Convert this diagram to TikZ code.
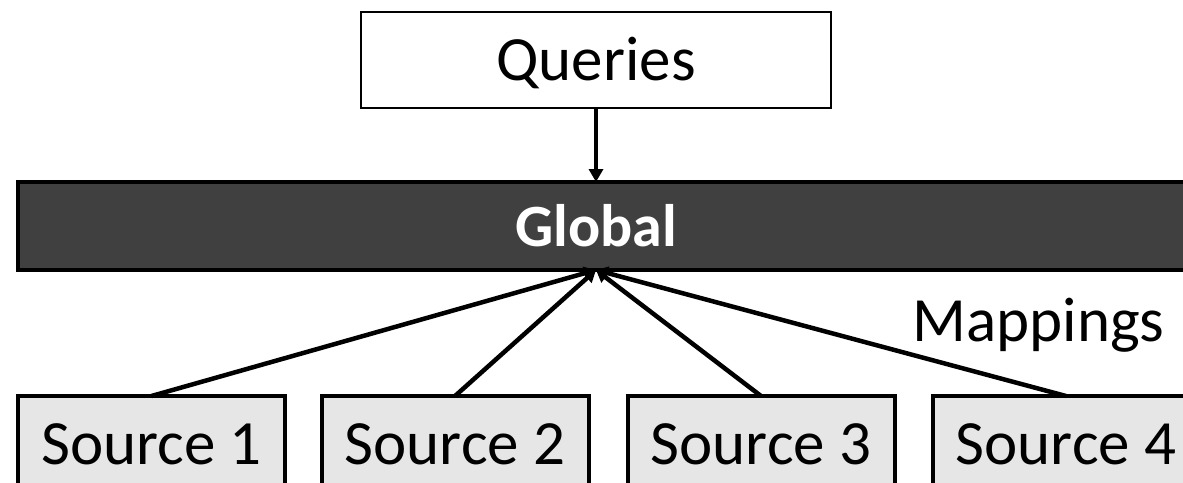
\documentclass[tikz,border=0pt]{standalone}
\usepackage{fontspec}
\setmainfont{Carlito}
\usetikzlibrary{arrows.meta}
\definecolor{barfill}{HTML}{404040}
\definecolor{srcfill}{HTML}{E6E6E6}
\tikzset{
  txt/.style={font=\fontsize{31.5}{38}\selectfont, text height=20.5pt, text depth=0pt, inner sep=0pt, outer sep=0pt},
  querybox/.style={txt, draw=black, line width=1pt, fill=white, minimum width=235pt, minimum height=48pt},
  globalbar/.style={draw=black, line width=2pt, fill=barfill, minimum width=596pt, minimum height=44pt, inner sep=0pt, outer sep=0pt},
  globaltext/.style={font=\fontsize{30}{36}\selectfont\bfseries, text=white, text height=19.5pt, text depth=0pt, inner sep=0pt},
  srcbox/.style={txt, draw=black, line width=2pt, fill=srcfill, minimum width=133.5pt, minimum height=48pt},
  maplabel/.style={font=\fontsize{31.5}{38}\selectfont, inner sep=0pt, anchor=base west},
  qarrow/.style={line width=1.75pt, -{Triangle[length=6.5pt,width=7pt]}},
  marrow/.style={line width=2.25pt, -{Triangle[length=6pt,width=6.5pt]}}
}
\begin{document}
\begin{tikzpicture}[x=0.5pt,y=-0.5pt]
  \clip (0,0) rectangle (1183,482);
  \useasboundingbox (0,0) rectangle (1183,482);
  \fill[white] (0,0) rectangle (1183,482);

  % query box and the global schema bar
  \node[querybox] (q) at (596,60) {Queries};
  \node[globalbar] (g) at (614,226) {};
  \node[globaltext] (gt) at (596,227) {Global};
  \coordinate (gtop) at (596,182);
  \coordinate (gbot) at (596,270);

  % data sources
  \node[srcbox] (s1) at (151.5,444) {Source 1};
  \node[srcbox] (s2) at (455,444) {Source 2};
  \node[srcbox] (s3) at (761,444) {Source 3};
  \node[srcbox] (s4) at (1066,444) {Source 4};

  \node[maplabel] (m) at (912,341) {Mappings};

  % connectors
  \draw[qarrow] (q.south) -- (gtop);
  \draw[marrow] (s1.north) -- (gbot);
  \draw[marrow] (s2.north) -- (gbot);
  \draw[marrow] (s3.north) -- (gbot);
  \draw[marrow] (s4.north) -- (gbot);
\end{tikzpicture}
\end{document}
